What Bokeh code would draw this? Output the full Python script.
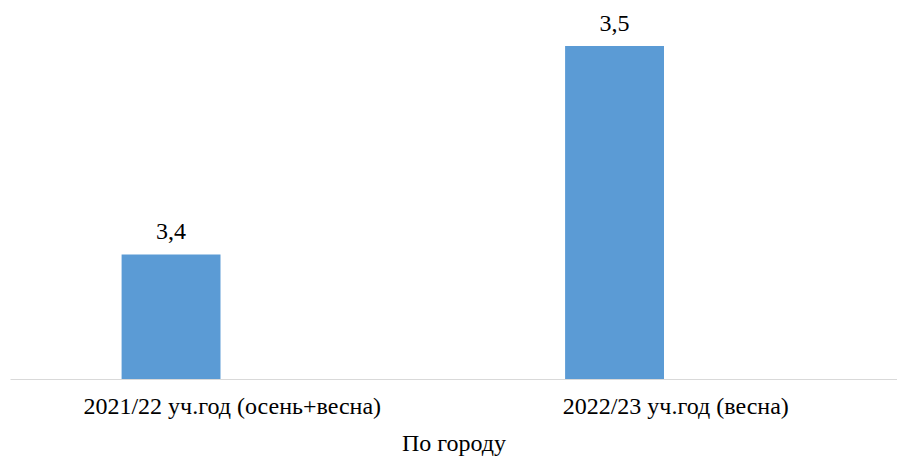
from bokeh.plotting import figure
from bokeh.models import ColumnDataSource, Range1d, LabelSet, FixedTicker
from bokeh.embed import file_html
from bokeh.resources import INLINE

categories = ["2021/22 уч.год (осень+весна)", "2022/23 уч.год (весна)"]
values = [3.4, 3.5]
value_labels = ["3,4", "3,5"]
series_name = "По городу"

y_min = 3.34
px_per_unit = 2090.0
px_per_cat = 443.5
offset = -0.138
bar_w = 0.223

W, H = 897, 458
left_border = 10
bottom_border = 78
frame_w = W - left_border
frame_h = H - bottom_border

idx = list(range(len(categories)))
src = ColumnDataSource(dict(
    x=[i + offset for i in idx],
    top=values,
    lab=value_labels,
))

FONT = "Liberation Serif"

p = figure(width=W, height=H, output_backend="svg", toolbar_location=None,
           x_range=Range1d(-0.5, -0.5 + frame_w / px_per_cat),
           y_range=Range1d(y_min, y_min + frame_h / px_per_unit),
           min_border_left=left_border, min_border_right=0, min_border_top=0,
           min_border_bottom=bottom_border)

p.vbar(x="x", top="top", bottom=y_min, width=bar_w, source=src,
       fill_color="#5b9bd5", line_color=None)

labels = LabelSet(x="x", y="top", text="lab", source=src, y_offset=15,
                  text_align="center", text_baseline="alphabetic",
                  text_font=FONT, text_font_size="24px", text_color="#000000")
p.add_layout(labels)

p.yaxis.visible = False
p.xgrid.visible = False
p.ygrid.visible = False
p.outline_line_color = None

ax = p.xaxis[0]
ax.ticker = FixedTicker(ticks=idx)
ax.major_label_overrides = {i: c for i, c in zip(idx, categories)}
ax.major_tick_line_color = None
ax.minor_tick_line_color = None
ax.major_tick_out = 0
ax.major_tick_in = 0
ax.axis_line_color = "#d9d9d9"
ax.axis_line_width = 1
ax.major_label_text_font = FONT
ax.major_label_text_font_size = "24px"
ax.major_label_text_color = "#000000"
ax.major_label_standoff = 13
ax.axis_label = series_name
ax.axis_label_text_font = FONT
ax.axis_label_text_font_size = "24px"
ax.axis_label_text_font_style = "normal"
ax.axis_label_text_color = "#000000"
ax.axis_label_standoff = 8

open("out.html", "w").write(file_html(p, INLINE))
